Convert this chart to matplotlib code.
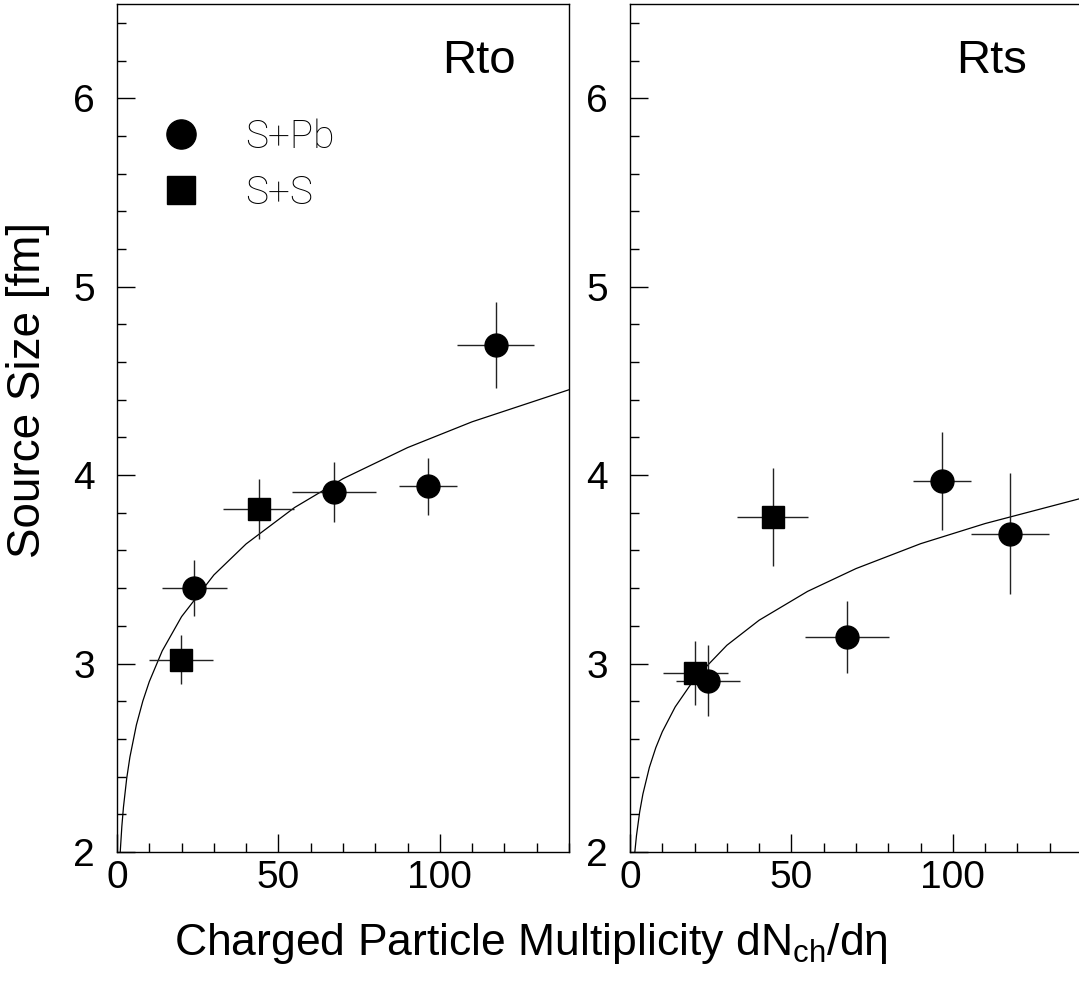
import matplotlib
matplotlib.use("Agg")
import matplotlib.pyplot as plt
from matplotlib.lines import Line2D
from matplotlib.ticker import MultipleLocator

# --- data ---
# Rto panel
rto_pb_x = [24.0, 67.1, 96.2, 117.3]
rto_pb_y = [3.40, 3.91, 3.94, 4.69]
rto_pb_xerr = [10, 13, 9, 12]
rto_pb_yerr = [0.15, 0.16, 0.15, 0.23]
rto_ss_x = [19.8, 43.9]
rto_ss_y = [3.02, 3.82]
rto_ss_xerr = [10, 11]
rto_ss_yerr = [0.13, 0.16]

# Rts panel
rts_pb_x = [24.1, 67.3, 96.6, 117.7]
rts_pb_y = [2.91, 3.14, 3.97, 3.69]
rts_pb_xerr = [10, 13, 9, 12]
rts_pb_yerr = [0.19, 0.19, 0.26, 0.32]
rts_ss_x = [20.2, 44.2]
rts_ss_y = [2.95, 3.78]
rts_ss_xerr = [10, 11]
rts_ss_yerr = [0.17, 0.26]

# fit curves
fit_x = [1, 1.5, 2, 3, 4, 6, 8, 10, 14, 20, 30, 40, 55, 70, 90, 110, 140]
rto_fit_y = [2.00, 2.136, 2.238, 2.390, 2.504, 2.674, 2.801, 2.904, 3.067,
             3.249, 3.470, 3.635, 3.828, 3.981, 4.146, 4.283, 4.453]
rts_fit_y = [1.885, 2.000, 2.086, 2.213, 2.308, 2.449, 2.554, 2.638, 2.770,
             2.919, 3.097, 3.230, 3.383, 3.504, 3.636, 3.743, 3.878]

SANS = ["Liberation Sans", "Arimo", "DejaVu Sans"]
THIN = ["Roboto", "Lato", "DejaVu Sans"]

plt.rcParams["font.family"] = SANS
plt.rcParams["mathtext.fontset"] = "custom"
plt.rcParams["mathtext.rm"] = "Liberation Sans"

W, H = 1079, 985
fig = plt.figure(figsize=(W / 100, H / 100), dpi=100)

ax_l = fig.add_axes([117 / W, 133 / H, 452 / W, 848 / H])
ax_r = fig.add_axes([630 / W, 133 / H, 452 / W, 848 / H])


def draw_panel(ax, pb, ss, fit_y, label):
    ax.plot(fit_x, fit_y, color="k", lw=0.9, zorder=1)
    ax.errorbar(pb[0], pb[1], xerr=pb[2], yerr=pb[3], fmt="o", ms=16.5,
                mfc="k", mec="k", ecolor="#222222", elinewidth=1.0, capsize=0, zorder=3)
    ax.errorbar(ss[0], ss[1], xerr=ss[2], yerr=ss[3], fmt="s", ms=16.0,
                mfc="k", mec="k", ecolor="#222222", elinewidth=1.0, capsize=0, zorder=3)
    ax.set_xlim(0, 140)
    ax.set_ylim(2, 6.5)
    ax.xaxis.set_major_locator(MultipleLocator(50))
    ax.xaxis.set_minor_locator(MultipleLocator(10))
    ax.yaxis.set_major_locator(MultipleLocator(1))
    ax.yaxis.set_minor_locator(MultipleLocator(0.2))
    ax.tick_params(which="both", direction="in", top=False, right=False, width=1.0)
    ax.tick_params(which="major", length=13, labelsize=28)
    ax.tick_params(which="minor", length=6.5)
    ax.tick_params(axis="x", pad=6)
    ax.tick_params(axis="y", pad=16)
    for sp in ax.spines.values():
        sp.set_linewidth(1.0)
    ax.text(112, 6.2, label, ha="center", va="center", fontsize=34)


draw_panel(ax_l, (rto_pb_x, rto_pb_y, rto_pb_xerr, rto_pb_yerr),
           (rto_ss_x, rto_ss_y, rto_ss_xerr, rto_ss_yerr), rto_fit_y, "Rto")
draw_panel(ax_r, (rts_pb_x, rts_pb_y, rts_pb_xerr, rts_pb_yerr),
           (rts_ss_x, rts_ss_y, rts_ss_xerr, rts_ss_yerr), rts_fit_y, "Rts")

handles = [Line2D([], [], marker="o", ls="none", ms=21, color="k"),
           Line2D([], [], marker="s", ls="none", ms=20, color="k")]
ax_l.legend(handles, ["S+Pb", "S+S"], loc="upper left", bbox_to_anchor=(0.098, 0.865),
            frameon=False, borderpad=0, borderaxespad=0, handlelength=1.0,
            handletextpad=1.15, labelspacing=0.47,
            prop={"family": THIN, "weight": "light", "size": 28})

fig.text(28 / W, 1 - 390 / H, "Source Size [fm]", rotation=90,
         ha="center", va="center", fontsize=33)
fig.text(531 / W, 1 - 955 / H, r"Charged Particle Multiplicity dN$_{\mathrm{ch}}$/dη",
         ha="center", va="baseline", fontsize=32)

fig.savefig("out.png", dpi=100)
